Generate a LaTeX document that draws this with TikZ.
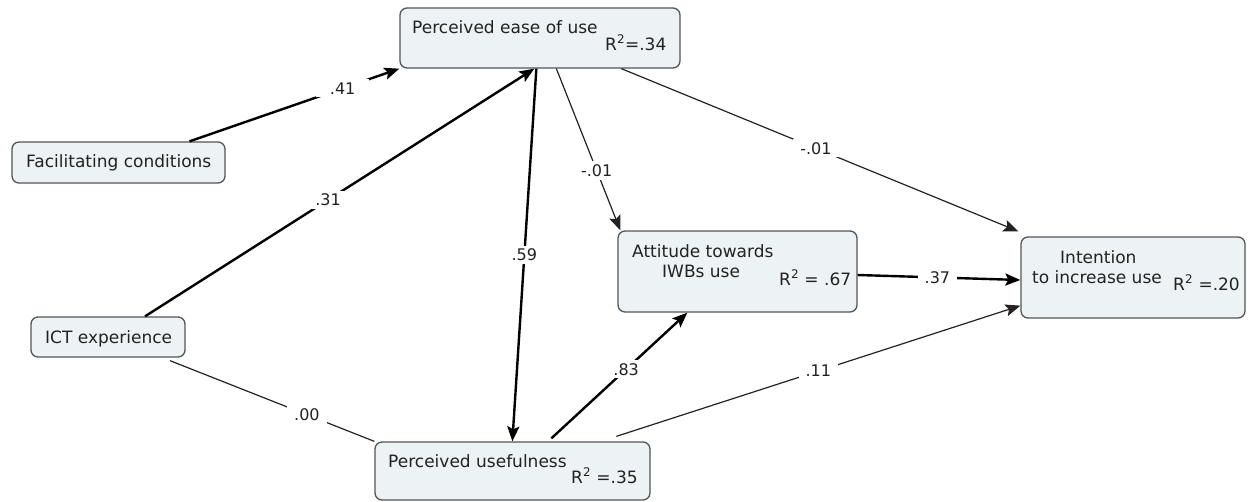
\documentclass[tikz,border=0pt]{standalone}
\usepackage{fontspec}
\setmainfont{DejaVu Sans}
\usetikzlibrary{arrows.meta,calc}
\definecolor{boxfill}{HTML}{EDF2F5}
\definecolor{boxline}{HTML}{555555}
\definecolor{ink}{HTML}{222222}
\begin{document}
\begin{tikzpicture}[x=1pt,y=-1pt,
 box/.style={draw=boxline, fill=boxfill, rounded corners=7pt, line width=1.3pt, inner sep=0pt},
 txt/.style={anchor=base west, inner sep=0pt, text=ink, font=\fontsize{17}{20}\selectfont},
 lab/.style={fill=white, inner xsep=7pt, inner ysep=3pt, text=ink, font=\fontsize{16}{19}\selectfont},
 strong/.style={line width=2.4pt, draw=black},
 weak/.style={line width=1.2pt, draw=ink},
 tip/.style={-{Stealth[length=15pt,width=12pt,inset=3pt]}}
]
\useasboundingbox (0,0) rectangle (1249,501);

% boxes
\node[box, minimum width=280pt, minimum height=60pt] (peou) at (540,38) {};
\node[txt] (peouT) at (412,33) {Perceived ease of use};
\node[txt] (peouR) at (605,50) {R\textsuperscript{2}=.34};

\node[box, minimum width=213pt, minimum height=41pt] (fc) at (118.5,162.5) {};
\node[txt] (fcT) at (26,167) {Facilitating conditions};

\node[box, minimum width=154pt, minimum height=40pt] (ict) at (108,337) {};
\node[txt] (ictT) at (45,343) {ICT experience};

\node[box, minimum width=275pt, minimum height=58pt] (pu) at (512.5,471) {};
\node[txt] (puT) at (388,467) {Perceived usefulness};
\node[txt] (puR) at (571,483) {R\textsuperscript{2} =.35};

\node[box, minimum width=239pt, minimum height=81pt] (att) at (737.5,271.5) {};
\node[txt] (attT1) at (632,257) {Attitude towards};
\node[txt] (attT2) at (662,277) {IWBs use};
\node[txt] (attR) at (779,285) {R\textsuperscript{2} = .67};

\node[box, minimum width=224pt, minimum height=81pt] (int) at (1133,277.5) {};
\node[txt] (intT1) at (1060,263) {Intention};
\node[txt] (intT2) at (1032,283) {to increase use};
\node[txt] (intR) at (1173,290) {R\textsuperscript{2} =.20};

% connectors
\draw[strong,tip] ([xshift=71pt]fc.north) -- (peou.south west)
  node[lab,pos=0.73,inner xsep=14pt] {.41};
\draw[strong,tip] ([xshift=37pt]ict.north) -- ([xshift=135pt]peou.south west)
  node[lab,pos=0.47] {.31};
\draw[strong,tip] ([xshift=137pt]peou.south west) -- ([xshift=138pt]pu.north west)
  node[lab,pos=0.5,inner xsep=3pt] {.59};
\draw[weak,tip] ([xshift=157pt]peou.south west) -- ([xshift=3pt]att.north west)
  node[lab,pos=0.63] {-.01};
\draw[weak,tip] ([xshift=222pt]peou.south west) -- ([xshift=-2pt,yshift=5pt]int.north west)
  node[lab,pos=0.49] {-.01};
\draw[strong,tip] ([yshift=-3.5pt]att.east) -- ([yshift=-2.5pt]int.west)
  node[lab,pos=0.49] {.37};
\draw[weak] ([xshift=62pt,yshift=-3pt]ict.south) -- (pu.north west)
  node[lab,pos=0.67] {.00};
\draw[strong,tip] ([xshift=177pt,yshift=3pt]pu.north west) -- ([xshift=70pt]att.south west)
  node[lab,pos=0.55] {.83};
\draw[weak,tip] ([xshift=242pt,yshift=5pt]pu.north west) -- ([yshift=13pt]int.south west)
  node[lab,pos=0.5] {.11};
\end{tikzpicture}
\end{document}
